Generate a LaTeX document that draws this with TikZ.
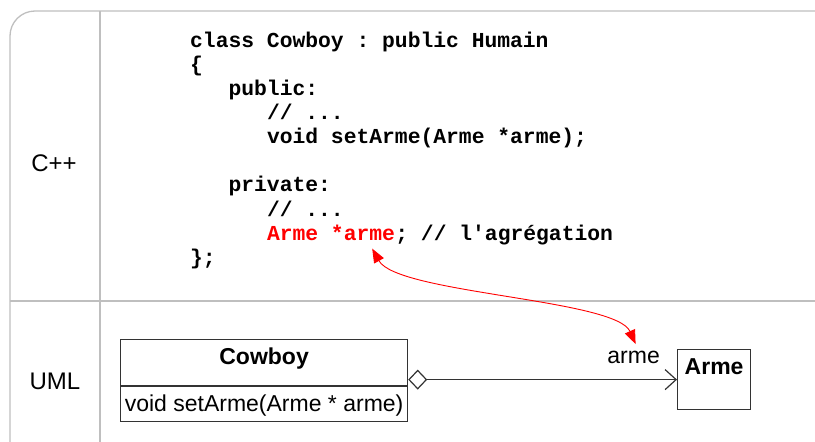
\documentclass[tikz,border=0pt]{standalone}
\usepackage{fontspec}
\setmainfont{Liberation Sans}
\setmonofont{Liberation Mono}
\usetikzlibrary{arrows.meta, positioning}

\begin{document}
\begin{tikzpicture}[x=1pt,y=-1pt,
    frame/.style={draw=black!25, line width=1.3pt},
    code/.style={anchor=base west, inner sep=0pt, font=\fontsize{21.33}{24}\selectfont\ttfamily\bfseries},
    rowlbl/.style={font=\fontsize{24}{28}\selectfont},
    umlbox/.style={draw=black!80, line width=1.2pt, inner sep=0pt, anchor=north west, font=\fontsize{23}{27}\selectfont},
    aggr/.style={draw=black!80, line width=1.2pt, {Diamond[open,length=19pt,width=20pt]}-{Straight Barb[length=11pt,width=20pt]}},
    link/.style={draw=red, line width=0.9pt, {Triangle[length=14pt,width=11pt]}-{Triangle[length=14pt,width=11pt]}}]
  \useasboundingbox (0,0) rectangle (815,442);
  \clip (0,0) rectangle (815,442);
  % table frame
  \draw[frame, rounded corners=25pt] (10,11) rectangle (840,470);
  \draw[frame] (100,11) -- (100,470);
  \draw[frame] (10,301) -- (840,301);
  % row labels
  \node[rowlbl] (cpp) at (54,163) {C++};
  \node[rowlbl] (uml) at (55,381) {UML};
  % code
  \foreach \ln/\ind/\txt in {
    1/0/{class Cowboy : public Humain},
    2/0/{\{},
    3/3/{public:},
    4/6/{// ...},
    5/6/{void setArme(Arme *arme);},
    7/3/{private:},
    8/6/{// ...},
    10/0/{\};}}
  {
    \node[code] (code\ln) at (190+\ind*12.8, 47+\ln*24.15-24.15) {\txt};
  }
  \node[code, text=red] (armevar) at (190+6*12.8, 47+8*24.15) {Arme *arme};
  \node[code] (agreg) at (armevar.base east) {; // l'agrégation};
  % uml classes
  \node[umlbox, minimum width=287pt, text height=25pt, text depth=21pt, font=\fontsize{23}{27}\selectfont\bfseries] (cowboy) at (120,339) {Cowboy};
  \node[umlbox, minimum width=287pt, text height=25pt, text depth=10pt] (cowboyops) at (cowboy.south west) {void setArme(Arme * arme)};
  \node[umlbox, minimum width=73pt, text height=25pt, text depth=35pt, font=\fontsize{23}{27}\selectfont\bfseries] (armebox) at (677,349) {Arme};
  \node[inner sep=0pt, anchor=base east, font=\fontsize{23}{27}\selectfont] (armelbl) at ([shift={(-17,-16)}]armebox.west) {arme};
  % aggregation
  \draw[aggr] (cowboy.east |- armebox.west) -- (armebox.west);
  % link code <-> uml
  \draw[link] ([shift={(-23,8)}]armevar.south east) .. controls +(25,45) and +(-20,-45) .. ([shift={(2,-7)}]armelbl.north);
\end{tikzpicture}
\end{document}
